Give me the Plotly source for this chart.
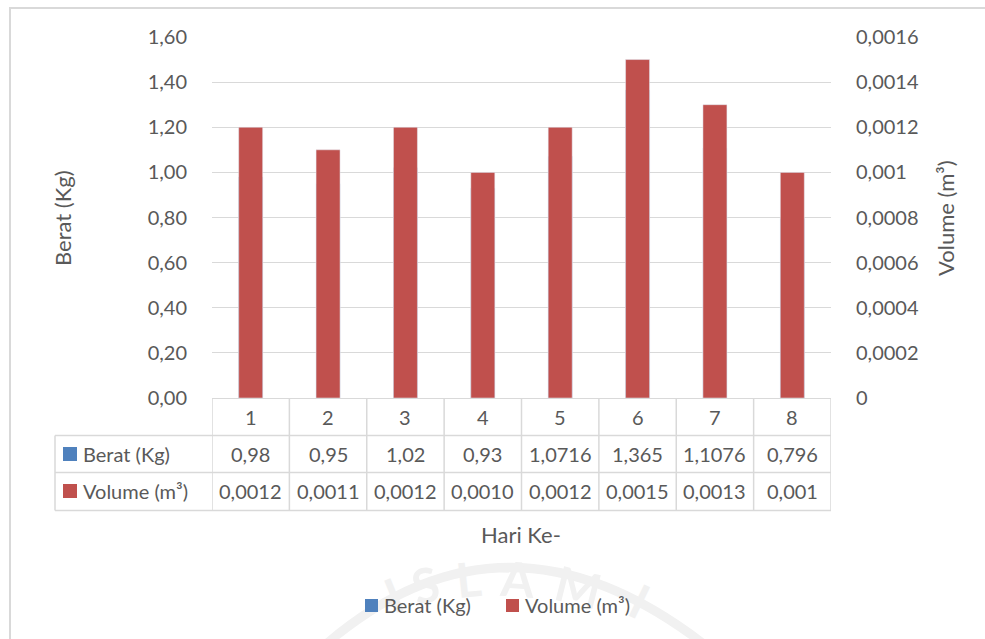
import plotly.graph_objects as go

# Data
days = [1, 2, 3, 4, 5, 6, 7, 8]
berat = [0.98, 0.95, 1.02, 0.93, 1.0716, 1.365, 1.1076, 0.796]
volume = [0.0012, 0.0011, 0.0012, 0.0010, 0.0012, 0.0015, 0.0013, 0.001]
volume_labels = ["0,0012", "0,0011", "0,0012", "0,0010", "0,0012", "0,0015", "0,0013", "0,001"]
left_ticks = [0, 0.2, 0.4, 0.6, 0.8, 1.0, 1.2, 1.4, 1.6]
right_ticks = [0, 0.0002, 0.0004, 0.0006, 0.0008, 0.001, 0.0012, 0.0014, 0.0016]
right_tick_text = ["0", "0,0002", "0,0004", "0,0006", "0,0008", "0,001", "0,0012", "0,0014", "0,0016"]
series_names = ["Berat (Kg)", "Volume (m³)"]

BLUE = "#4F81BD"
RED = "#C0504D"
TXT = "#595959"
GRID = "#D9D9D9"
FONT = "Lato"

W, H = 985, 639
L, R, T, B = 212, 831, 37, 398  # plot area in pixels


def px_x(x):
    return (x - L) / (R - L)


def px_y(y):
    return (B - y) / (B - T)


def label(text, x, y, xref="paper", size=20, xanchor="center", angle=0, color=TXT, weight="normal"):
    return dict(text=text, xref=xref, yref="paper", x=x, y=y,
                xanchor=xanchor, yanchor="middle", textangle=angle,
                showarrow=False, font=dict(family=FONT, size=size, color=color, weight=weight))


fig = go.Figure()
fig.add_trace(go.Bar(x=days, y=berat, name=series_names[0], marker_color=BLUE,
                     width=0.31, yaxis="y", showlegend=False))
fig.add_trace(go.Bar(x=days, y=volume, name=series_names[1], marker_color=RED,
                     width=0.31, yaxis="y2", showlegend=False))

fig.update_layout(
    width=W, height=H,
    margin=dict(l=L, r=W - R, t=T, b=H - B),
    paper_bgcolor="white", plot_bgcolor="white",
    barmode="overlay",
    separators=",.",
    font=dict(family=FONT, size=20, color=TXT),
    xaxis=dict(range=[0.5, 8.5], showgrid=False, showticklabels=False,
               zeroline=False, showline=False, ticks=""),
    yaxis=dict(range=[0, 1.6], tickvals=left_ticks, tickformat=".2f",
               showgrid=True, gridcolor=GRID, gridwidth=1,
               zeroline=True, zerolinecolor=GRID, zerolinewidth=1,
               ticks="outside", ticklen=20, tickcolor="rgba(0,0,0,0)",
               tickfont=dict(size=20, color=TXT)),
    yaxis2=dict(range=[0, 0.0016], overlaying="y", side="right",
                tickvals=right_ticks, ticktext=right_tick_text,
                showgrid=False, zeroline=False,
                ticks="outside", ticklen=20, tickcolor="rgba(0,0,0,0)",
                tickfont=dict(size=20, color=TXT)),
)

shapes = []
annots = []

# Outer chart frame
shapes.append(dict(type="line", xref="paper", yref="paper",
                   x0=px_x(9), x1=px_x(990), y0=px_y(8), y1=px_y(8),
                   line=dict(color=GRID, width=2)))
shapes.append(dict(type="line", xref="paper", yref="paper",
                   x0=px_x(10), x1=px_x(10), y0=px_y(8), y1=px_y(645),
                   line=dict(color=GRID, width=2)))

# Faint background emblem
shapes.append(dict(type="path", xref="paper", yref="paper", layer="below",
                   path=f"M {px_x(325)} {px_y(645)} Q {px_x(505)} {px_y(490)} {px_x(705)} {px_y(645)}",
                   line=dict(color="#F1F1F1", width=9)))
for ch, cx, cy, ang in [("I", 393, 594, -22), ("S", 425, 584, -14), ("L", 468, 578, -6),
                        ("A", 517, 578, 4), ("M", 578, 586, 14), ("I", 640, 600, 26)]:
    annots.append(label(ch, px_x(cx), px_y(cy), size=48, angle=ang, color="#F1F1F1", weight="bold"))

# Data table grid
row_lines = [435.5, 472.5, 510.5]
for yy in row_lines:
    shapes.append(dict(type="line", xref="paper", yref="paper",
                       x0=px_x(55), x1=1, y0=px_y(yy), y1=px_y(yy),
                       line=dict(color=GRID, width=1.5)))
for i in range(len(days) + 1):
    xv = days[0] - 0.5 + i
    shapes.append(dict(type="line", xref="x", yref="paper",
                       x0=xv, x1=xv, y0=px_y(398), y1=px_y(510.5),
                       line=dict(color=GRID, width=1.5)))
shapes.append(dict(type="line", xref="paper", yref="paper",
                   x0=px_x(55), x1=px_x(55), y0=px_y(435.5), y1=px_y(510.5),
                   line=dict(color=GRID, width=1.5)))

row_centers = [417, 454, 491]
for d, b, vl in zip(days, berat, volume_labels):
    annots.append(label(str(d), d, px_y(row_centers[0]), xref="x"))
    annots.append(label(f"{b:g}".replace(".", ","), d, px_y(row_centers[1]), xref="x"))
    annots.append(label(vl, d, px_y(row_centers[2]), xref="x"))

# Row headers with colour keys
for name, col, yc in [(series_names[0], BLUE, row_centers[1]), (series_names[1], RED, row_centers[2])]:
    shapes.append(dict(type="rect", xref="paper", yref="paper",
                       x0=px_x(63), x1=px_x(77), y0=px_y(yc + 7), y1=px_y(yc - 7),
                       fillcolor=col, line=dict(width=0)))
    annots.append(label(name, px_x(81), px_y(yc), xanchor="left"))

# Legend
for name, col, sx in [(series_names[0], BLUE, 365), (series_names[1], RED, 506)]:
    shapes.append(dict(type="rect", xref="paper", yref="paper",
                       x0=px_x(sx), x1=px_x(sx + 13), y0=px_y(612), y1=px_y(599),
                       fillcolor=col, line=dict(width=0)))
    annots.append(label(name, px_x(sx + 17), px_y(605), xanchor="left"))

# Axis titles
annots.append(label("Berat (Kg)", px_x(62), px_y(218), size=22, angle=-90))
annots.append(label("Volume (m³)", px_x(945), px_y(218), size=22, angle=-90))
annots.append(label("Hari Ke-", px_x(521), px_y(534), size=22))

fig.update_layout(shapes=shapes, annotations=annots)
fig.write_html("out.html")
